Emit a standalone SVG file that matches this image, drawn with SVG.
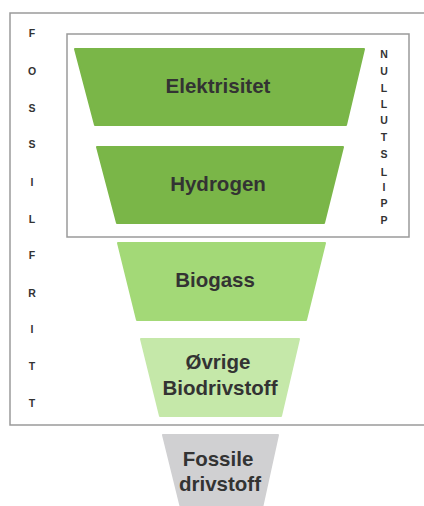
<svg xmlns="http://www.w3.org/2000/svg" width="424" height="506" viewBox="0 0 424 506">
<style>
.frame{fill:none;stroke:#9a9a9a;stroke-width:1.5}
.lbl{font-family:"Liberation Sans",Arial,sans-serif;font-weight:bold;font-size:20.5px;fill:#333333;text-anchor:middle}
.ltr{font-family:"Liberation Sans",Arial,sans-serif;font-weight:bold;font-size:10.5px;fill:#333333;text-anchor:middle}
.g1{fill:#7ab648}
.g2{fill:#a3d977}
.g3{fill:#c5e8a9}
.gr{fill:#d0d0d2}
</style>
<rect width="424" height="506" fill="#ffffff"/>
<g id="outer-frame"><path class="frame" d="M426,13 H10 V425 H426"/></g>
<g id="inner-frame"><rect class="frame" x="67" y="34" width="342" height="203"/></g>
<g id="elektrisitet">
<path class="g1" d="M75,49 H364 L346,125 H95 Z" stroke="#7ab648" stroke-width="2" stroke-linejoin="round"/>
<text class="lbl" x="218" y="93">Elektrisitet</text>
</g>
<g id="hydrogen">
<path class="g1" d="M97,147 H343 L324,223 H117 Z" stroke="#7ab648" stroke-width="2" stroke-linejoin="round"/>
<text class="lbl" x="218" y="191">Hydrogen</text>
</g>
<g id="biogass">
<path class="g2" d="M118,243 H325 L306,320 H137 Z" stroke="#a3d977" stroke-width="2" stroke-linejoin="round"/>
<text class="lbl" x="215" y="287">Biogass</text>
</g>
<g id="ovrige">
<path class="g3" d="M141,339 H299 L281,416 H160 Z" stroke="#c5e8a9" stroke-width="2" stroke-linejoin="round"/>
<text class="lbl" x="218" y="369">Øvrige</text>
<text class="lbl" x="220" y="395">Biodrivstoff</text>
</g>
<g id="fossile">
<path class="gr" d="M163,435 H278 L262,508 H181 Z" stroke="#d0d0d2" stroke-width="2" stroke-linejoin="round"/>
<text class="lbl" x="218" y="466">Fossile</text>
<text class="lbl" x="220" y="491">drivstoff</text>
</g>
<g id="fossilfritt">
<text class="ltr" x="32" y="37">F</text>
<text class="ltr" x="32" y="75">O</text>
<text class="ltr" x="32" y="112">S</text>
<text class="ltr" x="32" y="148">S</text>
<text class="ltr" x="32" y="186">I</text>
<text class="ltr" x="32" y="223">L</text>
<text class="ltr" x="32" y="259">F</text>
<text class="ltr" x="32" y="297">R</text>
<text class="ltr" x="32" y="333">I</text>
<text class="ltr" x="32" y="370">T</text>
<text class="ltr" x="32" y="407">T</text>
</g>
<g id="nullutslipp">
<text class="ltr" x="384" y="58">N</text>
<text class="ltr" x="384" y="75">U</text>
<text class="ltr" x="384" y="92">L</text>
<text class="ltr" x="384" y="108">L</text>
<text class="ltr" x="384" y="124">U</text>
<text class="ltr" x="384" y="141">T</text>
<text class="ltr" x="384" y="158">S</text>
<text class="ltr" x="384" y="176">L</text>
<text class="ltr" x="384" y="191">I</text>
<text class="ltr" x="384" y="207">P</text>
<text class="ltr" x="384" y="224">P</text>
</g>
<g id="connectors"/>
</svg>
